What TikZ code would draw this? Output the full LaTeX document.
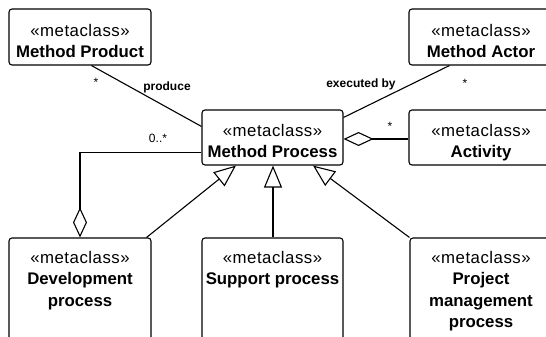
\documentclass[tikz,border=0pt]{standalone}
\usepackage{fontspec}
\setmainfont{Liberation Sans}
\newfontfamily\stereofont[LetterSpace=3]{Liberation Sans}
\usetikzlibrary{arrows.meta,calc}

\tikzset{
  metabox/.style={draw, line width=1.1pt, rounded corners=3pt, fill=white,
                  inner sep=0pt},
  metatext/.style={anchor=north, inner sep=0pt, align=center,
                   font=\fontsize{16.8}{21.5}\selectfont},
  rolelabel/.style={anchor=base, inner sep=0pt,
                    font=\fontsize{12}{14}\selectfont\bfseries},
  multlabel/.style={anchor=base, inner sep=0pt,
                    font=\fontsize{12}{14}\selectfont},
  assoc/.style={line width=1.1pt},
  aggr/.style={line width=1.1pt,
               -{Diamond[open, length=30pt, width=14pt, line width=1.1pt]}},
  gen/.style={line width=1.1pt,
              -{Triangle[open, length=22pt, width=18pt, line width=1.1pt]}}
}

\newcommand{\stereo}{{\stereofont «metaclass»}}

\begin{document}
\begin{tikzpicture}[x=1pt, y=-1pt]
  \useasboundingbox (0,0) rectangle (546,337);
  \fill[white] (0,0) rectangle (546,337);
  \clip (0,0) rectangle (546,337);

  % classes
  \node[metabox, minimum width=142pt, minimum height=56pt] (mp) at (80,37) {};
  \node[metabox, minimum width=144pt, minimum height=56pt] (ma) at (481,37) {};
  \node[metabox, minimum width=141pt, minimum height=55pt] (pr) at (272.5,137.5) {};
  \node[metabox, minimum width=144pt, minimum height=55pt] (ac) at (481,137.5) {};
  \node[metabox, minimum width=142pt, minimum height=130pt] (dv) at (80,303) {};
  \node[metabox, minimum width=141pt, minimum height=130pt] (sp) at (272.5,303) {};
  \node[metabox, minimum width=142pt, minimum height=130pt] (pm) at (481,303) {};

  % class texts
  \node[metatext] (mpt) at ($(mp.north)+(0,15.2)$) {\stereo\\\textbf{Method Product}};
  \node[metatext] (mat) at ($(ma.north)+(0,15.2)$) {\stereo\\\textbf{Method Actor}};
  \node[metatext] (prt) at ($(pr.north)+(0,14.2)$) {\stereo\\\textbf{Method Process}};
  \node[metatext] (act) at ($(ac.north)+(0,14.2)$) {\stereo\\\textbf{Activity}};
  \node[metatext] (dvt) at ($(dv.north)+(0,13.2)$)
    {\stereo\\\textbf{Development}\\\textbf{process}};
  \node[metatext] (spt) at ($(sp.north)+(0,13.2)$) {\stereo\\\textbf{Support process}};
  \node[metatext] (pmt) at ($(pm.north)+(0,13.2)$)
    {\stereo\\\textbf{Project}\\\textbf{management}\\\textbf{process}};

  % associations
  \draw[assoc] ($(mp.south west)+(83,0)$) -- ($(pr.north west)+(0,17)$);
  \draw[assoc] ($(ma.south west)+(41,0)$) -- ($(pr.north east)+(0,8)$);

  % aggregations
  \coordinate (acin) at ($(pr.east)+(0,1.5)$);
  \draw[aggr] (ac.west |- acin) -- (acin);
  \coordinate (dvout) at ($(pr.south west)+(0,-13)$);
  \coordinate (dvin) at ($(dv.north)+(0,0)$);
  \draw[aggr] (dvout) -| (dvin);

  % generalizations
  \draw[gen] ($(dv.north east)+(-5,0)$) -- ($(pr.south)+(-36.5,0)$);
  \draw[gen] ($(sp.north)+(0.5,0)$) -- ($(pr.south)+(0.5,0)$);
  \draw[gen] (pm.north west) -- ($(pr.south)+(40.5,0)$);

  % role names and multiplicities
  \node[rolelabel] (lprod) at (167,90.5) {produce};
  \node[rolelabel] (lexec) at (361,87) {executed by};
  \node[multlabel] (mmp) at (96,86) {*};
  \node[multlabel] (mma) at (465,88) {*};
  \node[multlabel] (mac) at (390,130) {*};
  \node[multlabel] (mdv) at (158,142) {0..*};
\end{tikzpicture}
\end{document}
